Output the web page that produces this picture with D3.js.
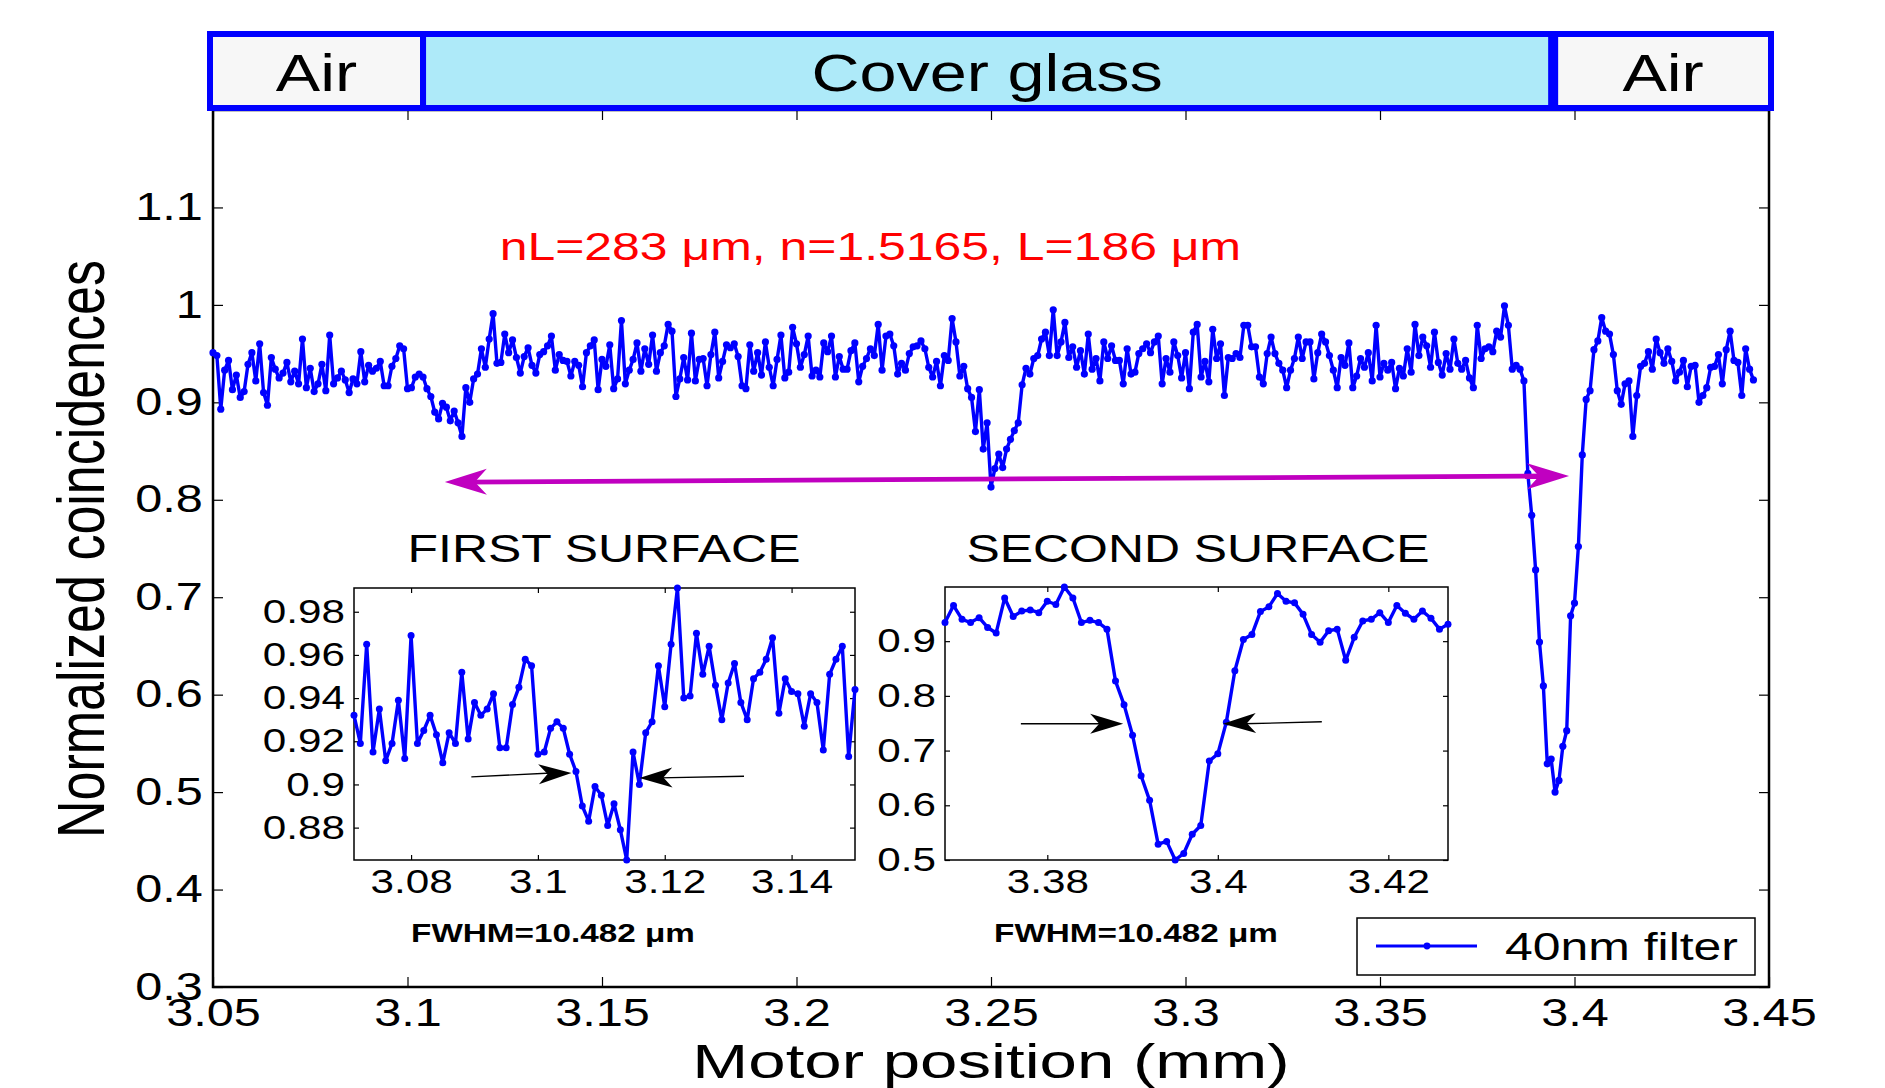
<!DOCTYPE html>
<html>
<head>
<meta charset="utf-8">
<script src="https://cdn.jsdelivr.net/npm/d3@7"></script>
<style>
  body { margin: 0; background: #fff; }
  svg text { font-family: "Liberation Sans", Arial, Helvetica, sans-serif; }
</style>
</head>
<body>
<svg id="fig" width="1885" height="1088"></svg>
<script>
// ---- data: coincidences, motor step 1 um ----
const step = 0.001;
const segStarts = [3.050, 3.071, 3.196, 3.296, 3.368];

const segA = [0.951, 0.948, 0.893, 0.933, 0.943, 0.913, 0.928, 0.905, 0.911, 0.939,
              0.951, 0.922, 0.960, 0.910, 0.897, 0.946, 0.934, 0.925, 0.930, 0.941,
              0.921];

// first surface (also shown in left inset) + following plateau
const segB = [0.932, 0.919, 0.965, 0.915, 0.935, 0.911, 0.919, 0.939, 0.912, 0.969,
              0.919, 0.925, 0.932, 0.923, 0.910, 0.924, 0.919, 0.952, 0.921, 0.938,
              0.932, 0.935, 0.942, 0.917, 0.917, 0.937, 0.945, 0.958, 0.955, 0.914,
              0.915, 0.926, 0.929, 0.926, 0.914, 0.906, 0.890, 0.883, 0.899, 0.895,
              0.881, 0.891, 0.879, 0.865, 0.915, 0.900, 0.924, 0.929, 0.955, 0.936,
              0.965, 0.991, 0.940, 0.941, 0.970, 0.951, 0.964, 0.946, 0.930, 0.947,
              0.956, 0.938, 0.930, 0.949, 0.952, 0.958, 0.968, 0.933, 0.949, 0.943,
              0.942, 0.927, 0.942, 0.938, 0.916, 0.951, 0.958, 0.964, 0.913, 0.944,
              0.937, 0.959, 0.914, 0.924, 0.984, 0.919, 0.933, 0.944, 0.961, 0.932,
              0.955, 0.939, 0.969, 0.932, 0.951, 0.958, 0.980, 0.973, 0.906, 0.924,
              0.946, 0.923, 0.971, 0.922, 0.944, 0.945, 0.917, 0.949, 0.972, 0.925,
              0.942, 0.959, 0.956, 0.960, 0.947, 0.917, 0.914, 0.959, 0.932, 0.951,
              0.928, 0.962, 0.936, 0.917, 0.944];

// plateau + artefact dip near 3.25
const segC = [0.969, 0.925, 0.931, 0.977, 0.960, 0.936, 0.949, 0.968, 0.927, 0.933,
              0.926, 0.961, 0.952, 0.968, 0.926, 0.947, 0.934, 0.934, 0.953, 0.961,
              0.921, 0.937, 0.945, 0.955, 0.948, 0.980, 0.933, 0.968, 0.970, 0.958,
              0.929, 0.940, 0.933, 0.950, 0.957, 0.958, 0.963, 0.955, 0.936, 0.926,
              0.942, 0.917, 0.948, 0.943, 0.986, 0.962, 0.927, 0.937, 0.914, 0.905,
              0.870, 0.913, 0.852, 0.879, 0.813, 0.832, 0.847, 0.833, 0.852, 0.862,
              0.871, 0.879, 0.918, 0.935, 0.929, 0.945, 0.948, 0.965, 0.972, 0.948,
              0.995, 0.948, 0.962, 0.982, 0.946, 0.957, 0.936, 0.953, 0.929, 0.970,
              0.934, 0.945, 0.922, 0.962, 0.945, 0.958, 0.943, 0.943, 0.919, 0.955,
              0.929, 0.931, 0.950, 0.955, 0.960, 0.951, 0.962, 0.968, 0.919, 0.945];

const segD = [0.931, 0.962, 0.948, 0.925,
              0.951, 0.914, 0.972, 0.980, 0.926, 0.942, 0.921, 0.975, 0.945, 0.960,
              0.907, 0.946, 0.945, 0.950, 0.946, 0.979, 0.979, 0.957, 0.957, 0.926,
              0.919, 0.950, 0.967, 0.950, 0.940, 0.933, 0.915, 0.933, 0.945, 0.967,
              0.945, 0.962, 0.962, 0.924, 0.951, 0.970, 0.962, 0.948, 0.933, 0.915,
              0.946, 0.938, 0.961, 0.915, 0.927, 0.945, 0.936, 0.951, 0.922, 0.979,
              0.926, 0.940, 0.933, 0.941, 0.914, 0.935, 0.927, 0.955, 0.931, 0.980,
              0.948, 0.967, 0.958, 0.936, 0.972, 0.941, 0.928, 0.950];

// second surface (also shown in right inset) + tail
const segE = [0.934, 0.965, 0.940, 0.934, 0.943, 0.925, 0.915, 0.979, 0.945, 0.955,
              0.957, 0.952, 0.973, 0.967, 0.999, 0.979, 0.934, 0.938, 0.934, 0.922,
              0.827, 0.784, 0.728, 0.654, 0.609, 0.529, 0.534, 0.500, 0.512, 0.547,
              0.563, 0.681, 0.694, 0.752, 0.846, 0.903, 0.912, 0.954, 0.963, 0.987,
              0.973, 0.970, 0.949, 0.912, 0.898, 0.919, 0.922, 0.865, 0.907, 0.937,
              0.940, 0.952, 0.934, 0.965, 0.951, 0.940, 0.955, 0.942, 0.922, 0.931,
              0.943, 0.916, 0.937, 0.938, 0.900, 0.907, 0.915, 0.936, 0.937, 0.949,
              0.919, 0.954, 0.973, 0.943, 0.941, 0.907, 0.955, 0.934, 0.923];

const segments = [segA, segB, segC, segD, segE];

const xTicks = [3.05, 3.1, 3.15, 3.2, 3.25, 3.3, 3.35, 3.4, 3.45];
const yTicks = [0.3, 0.4, 0.5, 0.6, 0.7, 0.8, 0.9, 1, 1.1];
const inset1Range = [3.071, 3.150];
const inset1XTicks = [3.08, 3.1, 3.12, 3.14];
const inset1YTicks = [0.88, 0.9, 0.92, 0.94, 0.96, 0.98];
const inset2Range = [3.368, 3.427];
const inset2XTicks = [3.38, 3.4, 3.42];
const inset2YTicks = [0.5, 0.6, 0.7, 0.8, 0.9];

const regionNames = ["Air", "Cover glass", "Air"];
const regionEdges = [3.05, 3.104, 3.394, 3.45];
const regionFills = ["#f7f7f7", "#aeeaf9", "#f7f7f7"];

// FWHM arrows, [x0, y0, x1, y1] in inset data units
const inset1Arrows = [[3.0895, 0.9035, 3.1053, 0.9053], [3.1325, 0.9038, 3.1160, 0.9030]];
const inset2Arrows = [[3.3769, 0.749, 3.3889, 0.749], [3.4122, 0.7527, 3.4006, 0.749]];
const spanArrow = [3.1096, 0.8182, 3.3986, 0.8244];

// ---- build ----
const series = segments.flatMap((vals, k) =>
  vals.map((v, j) => ({ x: +(segStarts[k] + j * step).toFixed(3), y: v })));

const BLUE = "#0000ff";
const SX = 1.28;   // the figure's lettering is stretched sideways

const svg = d3.select("#fig");
svg.append("rect").attr("width", 1885).attr("height", 1088).attr("fill", "#fff");

const x = d3.scaleLinear().domain([3.05, 3.45]).range([213, 1769]);
const y = d3.scaleLinear().domain([0.3, 1.2]).range([987, 110]);
const fmt = d3.format("~g");

function place(sel, px, py, sx) {
  return sel.attr("transform", `translate(${px},${py}) scale(${sx || SX},1)`);
}

function styleAxis(g, size) {
  g.select(".domain").remove();
  g.attr("font-family", null).attr("font-size", size);
  g.selectAll(".tick line").attr("stroke", "#000").attr("stroke-width", 1.2);
  g.selectAll(".tick text").attr("fill", "#000").attr("transform", `scale(${SX},1)`);
}

function arrowHead(g, x0, y0, x1, y1, len, half, notch, color) {
  const a = Math.atan2(y1 - y0, x1 - x0) * 180 / Math.PI;
  g.append("path")
    .attr("d", `M0,0L${-len},${-half}L${-len + notch},0L${-len},${half}Z`)
    .attr("transform", `translate(${x1},${y1}) rotate(${a})`)
    .attr("fill", color);
}

// main box + axes
const main = svg.append("g");
main.append("rect")
  .attr("x", x.range()[0]).attr("y", y.range()[1])
  .attr("width", x.range()[1] - x.range()[0]).attr("height", y.range()[0] - y.range()[1])
  .attr("fill", "none").attr("stroke", "#000").attr("stroke-width", 2.5);

main.append("g").attr("transform", `translate(0,${y.range()[0]})`)
  .call(d3.axisBottom(x).tickValues(xTicks).tickFormat(fmt).tickSizeInner(-10).tickSizeOuter(0).tickPadding(12))
  .call(g => styleAxis(g, 38));
main.append("g").attr("transform", `translate(0,${y.range()[1]})`)
  .call(d3.axisTop(x).tickValues(xTicks).tickFormat("").tickSizeInner(-10).tickSizeOuter(0))
  .call(g => styleAxis(g, 38));
main.append("g").attr("transform", `translate(${x.range()[0]},0)`)
  .call(d3.axisLeft(y).tickValues(yTicks).tickFormat(fmt).tickSizeInner(-10).tickSizeOuter(0).tickPadding(8))
  .call(g => styleAxis(g, 38));
main.append("g").attr("transform", `translate(${x.range()[1]},0)`)
  .call(d3.axisRight(y).tickValues(yTicks).tickFormat("").tickSizeInner(-10).tickSizeOuter(0))
  .call(g => styleAxis(g, 38));

// axis titles
place(main.append("text"), 991, 1077.5, 1.40).attr("text-anchor", "middle")
  .attr("font-size", 48).text("Motor position (mm)");
main.append("text").attr("transform", `translate(104,549) scale(${SX},1) rotate(-90)`)
  .attr("text-anchor", "middle").attr("font-size", 52).text("Normalized coincidences");

// data line
const line = d3.line().x(d => x(d.x)).y(d => y(d.y));
main.append("path").datum(series).attr("d", line)
  .attr("fill", "none").attr("stroke", BLUE).attr("stroke-width", 3.4).attr("stroke-linejoin", "round");
main.append("g").selectAll("circle").data(series).join("circle")
  .attr("cx", d => x(d.x)).attr("cy", d => y(d.y)).attr("r", 3.6).attr("fill", BLUE);

// magenta double arrow between the two surfaces
{
  const [a0, b0, a1, b1] = spanArrow;
  const X0 = x(a0), Y0 = y(b0), X1 = x(a1), Y1 = y(b1);
  main.append("line").attr("x1", X0 + 20).attr("y1", Y0).attr("x2", X1 - 20).attr("y2", Y1)
    .attr("stroke", "#c000c0").attr("stroke-width", 4.8);
  arrowHead(main, X0, Y0, X1, Y1, 42, 13, 12, "#c000c0");
  arrowHead(main, X1, Y1, X0, Y0, 42, 13, 12, "#c000c0");
}

// red annotation
place(main.append("text"), x(3.219), y(1.046)).attr("text-anchor", "middle")
  .attr("font-size", 39).attr("fill", "#ff0000")
  .text("nL=283 \u03bcm, n=1.5165, L=186 \u03bcm");

// material bars on top
const bars = svg.append("g");
regionNames.forEach((name, k) => {
  const x0 = k === 0 ? x(regionEdges[0]) - 3 : x(regionEdges[k]) + (k === 2 ? 4 : 0);
  const x1 = k === 2 ? x(regionEdges[3]) + 2 : x(regionEdges[k + 1]);
  bars.append("rect").attr("x", x0).attr("y", 34).attr("width", x1 - x0).attr("height", 74)
    .attr("fill", regionFills[k]).attr("stroke", BLUE).attr("stroke-width", 6);
  place(bars.append("text"), (x0 + x1) / 2, 91).attr("text-anchor", "middle")
    .attr("font-size", 52).text(name);
});

// legend
const leg = svg.append("g");
leg.append("rect").attr("x", 1357).attr("y", 918).attr("width", 398).attr("height", 57)
  .attr("fill", "#fff").attr("stroke", "#000").attr("stroke-width", 1.5);
leg.append("line").attr("x1", 1376).attr("x2", 1477).attr("y1", 946).attr("y2", 946)
  .attr("stroke", BLUE).attr("stroke-width", 3.2);
leg.append("circle").attr("cx", 1427).attr("cy", 946).attr("r", 3.4).attr("fill", BLUE);
place(leg.append("text"), 1505, 960).attr("font-size", 39).text("40nm filter");

// insets
function drawInset(cfg) {
  const pts = series.filter(d => d.x >= cfg.range[0] - 1e-9 && d.x <= cfg.range[1] + 1e-9);
  const ix = d3.scaleLinear().domain(d3.extent(pts, d => d.x)).range([cfg.left, cfg.right]);
  const iy = d3.scaleLinear().domain(d3.extent(pts, d => d.y)).range([cfg.bottom, cfg.top]);
  const g = svg.append("g");
  g.append("rect").attr("x", cfg.left).attr("y", cfg.top)
    .attr("width", cfg.right - cfg.left).attr("height", cfg.bottom - cfg.top)
    .attr("fill", "#fff").attr("stroke", "#000").attr("stroke-width", 1.5);
  g.append("g").attr("transform", `translate(0,${cfg.bottom})`)
    .call(d3.axisBottom(ix).tickValues(cfg.xTicks).tickFormat(fmt).tickSizeInner(-5).tickSizeOuter(0).tickPadding(10))
    .call(a => styleAxis(a, 33));
  g.append("g").attr("transform", `translate(0,${cfg.top})`)
    .call(d3.axisTop(ix).tickValues(cfg.xTicks).tickFormat("").tickSizeInner(-5).tickSizeOuter(0))
    .call(a => styleAxis(a, 33));
  g.append("g").attr("transform", `translate(${cfg.left},0)`)
    .call(d3.axisLeft(iy).tickValues(cfg.yTicks).tickFormat(fmt).tickSizeInner(-5).tickSizeOuter(0).tickPadding(7))
    .call(a => styleAxis(a, 33));
  g.append("g").attr("transform", `translate(${cfg.right},0)`)
    .call(d3.axisRight(iy).tickValues(cfg.yTicks).tickFormat("").tickSizeInner(-5).tickSizeOuter(0))
    .call(a => styleAxis(a, 33));

  const l = d3.line().x(d => ix(d.x)).y(d => iy(d.y));
  g.append("path").datum(pts).attr("d", l).attr("fill", "none")
    .attr("stroke", BLUE).attr("stroke-width", 3.4).attr("stroke-linejoin", "round");
  g.append("g").selectAll("circle").data(pts).join("circle")
    .attr("cx", d => ix(d.x)).attr("cy", d => iy(d.y)).attr("r", 3.5).attr("fill", BLUE);

  cfg.arrows.forEach(([a0, b0, a1, b1]) => {
    const X0 = ix(a0), Y0 = iy(b0), X1 = ix(a1), Y1 = iy(b1);
    g.append("line").attr("x1", X0).attr("y1", Y0).attr("x2", X1 - (X1 > X0 ? 20 : -20)).attr("y2", Y1)
      .attr("stroke", "#000").attr("stroke-width", 1.3);
    arrowHead(g, X0, Y0, X1, Y1, 33, 10, 9, "#000");
  });

  place(g.append("text"), cfg.titleX, 562).attr("text-anchor", "middle")
    .attr("font-size", 39).text(cfg.title);
  place(g.append("text"), cfg.fwhmX, 942).attr("text-anchor", "middle")
    .attr("font-size", 26).attr("font-weight", "bold").text("FWHM=10.482 \u03bcm");
}

drawInset({ range: inset1Range, left: 354, right: 855, top: 588, bottom: 860,
  xTicks: inset1XTicks, yTicks: inset1YTicks, arrows: inset1Arrows,
  title: "FIRST SURFACE", titleX: 604, fwhmX: 553 });
drawInset({ range: inset2Range, left: 945, right: 1448, top: 587, bottom: 860,
  xTicks: inset2XTicks, yTicks: inset2YTicks, arrows: inset2Arrows,
  title: "SECOND SURFACE", titleX: 1198, fwhmX: 1136 });
</script>
</body>
</html>
